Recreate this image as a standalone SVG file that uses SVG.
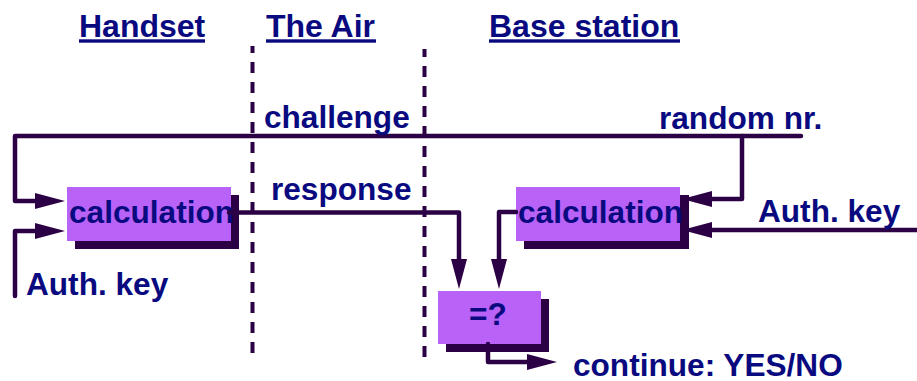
<svg xmlns="http://www.w3.org/2000/svg" width="917" height="381" viewBox="0 0 917 381">
<defs>
<style>
.t{font-family:"Liberation Sans",Arial,sans-serif;font-weight:bold;font-size:31.6px;fill:#0a0a80}
.h{font-size:32px}
.ul{fill:#0a0a80}
.dash{stroke:#2c0044;stroke-width:4;stroke-dasharray:11 9;fill:none}
.c{stroke:#2c0044;stroke-width:4.5;fill:none;stroke-linejoin:round;stroke-linecap:round}
.box{fill:#b862f7}
.sh{fill:#2c0044}
</style>
<marker id="ah" viewBox="0 0 30 16" refX="0" refY="8" markerWidth="30" markerHeight="16" markerUnits="userSpaceOnUse" orient="auto">
<path d="M0,0 L30,8 L0,16 z" fill="#2c0044"/>
</marker>
</defs>
<rect width="917" height="381" fill="#ffffff"/>
<g id="headers">
<text class="t h" x="79" y="36.5">Handset</text>
<rect class="ul" x="79" y="39.3" width="126" height="3.4"/>
<text class="t h" x="266" y="36.5">The Air</text>
<rect class="ul" x="266" y="39.3" width="110" height="3.4"/>
<text class="t h" x="489" y="36.5">Base station</text>
<rect class="ul" x="489" y="39.3" width="191" height="3.4"/>
</g>
<g id="separators">
<line class="dash" x1="252.5" y1="353" x2="252.5" y2="46"/>
<line class="dash" x1="424.5" y1="357" x2="424.5" y2="49"/>
</g>
<g id="calc-handset">
<rect class="sh" x="75" y="195" width="164" height="54"/>
<rect class="box" x="67" y="187" width="164" height="54"/>
<text class="t" x="69" y="223">calculation</text>
</g>
<g id="calc-base">
<rect class="sh" x="524" y="195" width="165" height="54"/>
<rect class="box" x="516" y="187" width="164" height="54"/>
<text class="t" x="518" y="223">calculation</text>
</g>
<g id="compare">
<rect class="sh" x="446" y="299" width="103" height="53"/>
<rect class="box" x="438" y="291" width="103" height="53"/>
<text class="t" x="469" y="325">=?</text>
</g>
<g id="connectors">
<path class="c" d="M801,136 H15 V201 H35" marker-end="url(#ah)"/>
<path class="c" d="M742,136 V199 H712" marker-end="url(#ah)"/>
<path class="c" d="M15,296 V231 H35" marker-end="url(#ah)"/>
<path class="c" d="M229,212.5 H459 V259" marker-end="url(#ah)"/>
<path class="c" d="M516,212 H499 V259" marker-end="url(#ah)"/>
<path class="c" d="M917,230 H712" marker-end="url(#ah)"/>
<path class="c" d="M488,344 V362 H527" marker-end="url(#ah)"/>
</g>
<g id="labels">
<text class="t" x="264" y="128">challenge</text>
<text class="t" x="659" y="129">random nr.</text>
<text class="t" x="271" y="200">response</text>
<text class="t" x="26" y="295">Auth. key</text>
<text class="t" x="758" y="221.5">Auth. key</text>
<text class="t" x="573" y="375.5">continue: YES/NO</text>
</g>
</svg>
